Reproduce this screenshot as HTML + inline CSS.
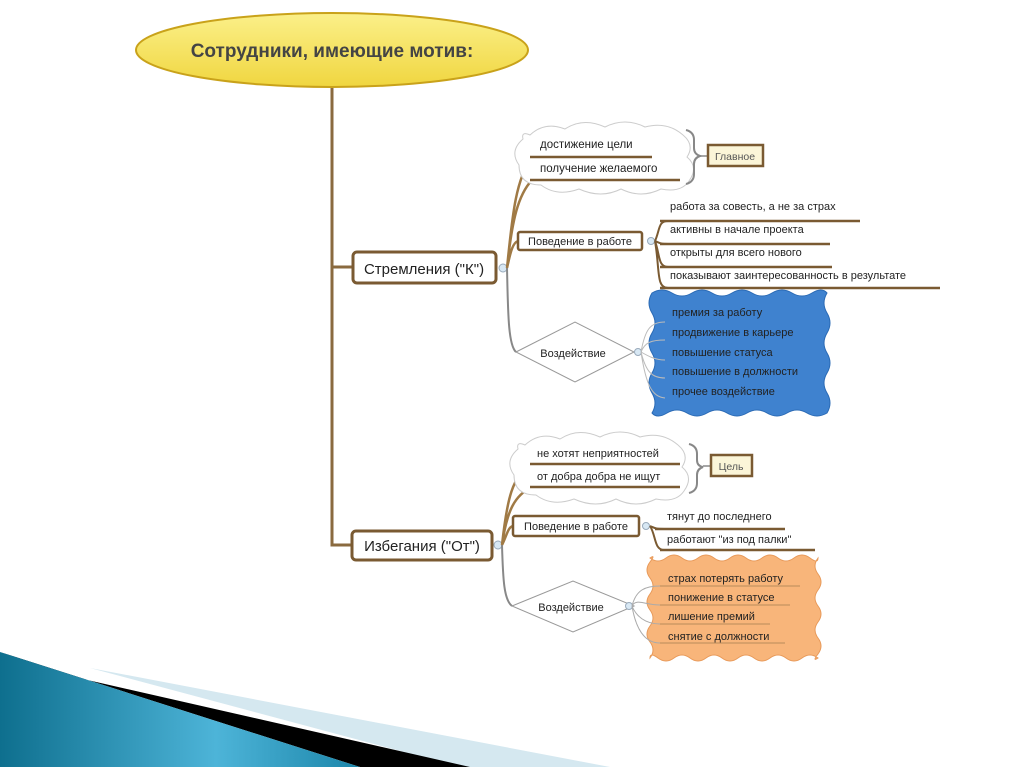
<!DOCTYPE html>
<html><head><meta charset="utf-8"><style>
html,body{margin:0;padding:0;background:#fff;}
svg{display:block;}
text{font-family:"Liberation Sans","DejaVu Sans",sans-serif;fill:#222;}
</style></head><body>
<svg width="1024" height="767" viewBox="0 0 1024 767" xmlns="http://www.w3.org/2000/svg">
<defs>
<linearGradient id="yg" x1="0" y1="0" x2="0" y2="1"><stop offset="0" stop-color="#fbf08a"/><stop offset="1" stop-color="#f0d640"/></linearGradient>
<linearGradient id="bg" x1="0" y1="0" x2="1" y2="0"><stop offset="0" stop-color="#0e6f8e"/><stop offset="0.6" stop-color="#4db4d8"/><stop offset="1" stop-color="#1c86aa"/></linearGradient>
</defs>
<!-- bottom decoration -->
<polygon points="90,668 610,767 460,767" fill="#d5e8f0"/>
<polygon points="0,652 70,676 470,767 360,767" fill="#000"/>
<polygon points="0,652 360,767 0,767" fill="url(#bg)"/>

<!-- title -->
<ellipse cx="332" cy="50" rx="196" ry="37" fill="url(#yg)" stroke="#c9a21a" stroke-width="2"/>
<text x="332" y="57" text-anchor="middle" font-size="19" font-weight="bold" style="fill:#444">Сотрудники, имеющие мотив:</text>

<!-- trunk -->
<path d="M332 88 V545 H352 M332 267 H353" stroke="#8a6a3f" stroke-width="3" fill="none"/>

<!-- Стремления -->
<rect x="353" y="252" width="143" height="31" rx="4" fill="#fff" stroke="#7a5a32" stroke-width="3"/>
<text x="424" y="274" text-anchor="middle" font-size="15">Стремления ("К")</text>
<circle cx="503" cy="268" r="4" fill="#d8e8f4" stroke="#9ab" stroke-width="1"/>
<path d="M507 268 C512 220,515 180,532 157 M507 268 C512 220,518 195,532 180 M507 268 C510 255,512 243,518 241" stroke="#a07a45" stroke-width="2.5" fill="none"/>
<path d="M507 268 C508 310,508 345,516 352" stroke="#888" stroke-width="2" fill="none"/>

<path d="M530 135 q15 -14 35 -6 q18 -12 40 -2 q20 -10 40 0 q22 -6 38 8 q12 10 4 22 q12 10 2 24 q-8 12 -28 8 q-20 10 -40 0 q-20 10 -42 0 q-22 8 -38 -4 q-22 0 -22 -20 q-10 -14 4 -26 q-2 -8 7 -4z" fill="#fff" stroke="#ccc" stroke-width="1"/>
<text x="540" y="148" font-size="11.5">достижение цели</text>
<line x1="530" y1="157" x2="652" y2="157" stroke="#7a5a32" stroke-width="2.5"/>
<text x="540" y="172" font-size="11.5">получение желаемого</text>
<line x1="530" y1="180" x2="680" y2="180" stroke="#7a5a32" stroke-width="2.5"/>
<path d="M686 130 q8 2 8 10 v8 q0 6 6 8 q-6 2 -6 8 v10 q0 8 -8 10" stroke="#888" stroke-width="2" fill="none"/>
<line x1="700" y1="156" x2="708" y2="156" stroke="#888" stroke-width="1.5"/>
<rect x="708" y="145" width="55" height="21" fill="#fbf5d8" stroke="#7a5a32" stroke-width="2.5"/>
<text x="735" y="160" text-anchor="middle" font-size="10.5" style="fill:#555">Главное</text>

<rect x="518" y="232" width="124" height="18" rx="2" fill="#fff" stroke="#7a5a32" stroke-width="2.5"/>
<text x="580" y="245" text-anchor="middle" font-size="11">Поведение в работе</text>
<circle cx="651" cy="241" r="3.5" fill="#d8e8f4" stroke="#9ab" stroke-width="1"/>
<path d="M655 241 C660 230,658 221,668 221 M655 241 C660 243,660 244,668 244 M655 241 C660 255,658 267,668 267 M655 241 C660 270,656 288,668 288" stroke="#7a5a32" stroke-width="2" fill="none"/>
<text x="670" y="210" font-size="11">работа за совесть, а не за страх</text>
<line x1="660" y1="221" x2="860" y2="221" stroke="#7a5a32" stroke-width="2.5"/>
<text x="670" y="233" font-size="11">активны в начале проекта</text>
<line x1="660" y1="244" x2="830" y2="244" stroke="#7a5a32" stroke-width="2.5"/>
<text x="670" y="256" font-size="11">открыты для всего нового</text>
<line x1="660" y1="267" x2="832" y2="267" stroke="#7a5a32" stroke-width="2.5"/>
<text x="670" y="279" font-size="11">показывают заинтересованность в результате</text>
<line x1="660" y1="288" x2="940" y2="288" stroke="#7a5a32" stroke-width="2.5"/>

<polygon points="516,352 575,322 634,352 575,382" fill="#fff" stroke="#999" stroke-width="1"/>
<text x="573" y="357" text-anchor="middle" font-size="11">Воздействие</text>
<path d="M652 293 q10 -6 20 0 t20 0 t20 0 t20 0 t20 0 t20 0 t20 0 t20 0 t15 0 q-6 10 0 20 t0 20 t0 20 t0 20 t0 20 t0 20 q-10 6 -20 0 t-20 0 t-20 0 t-20 0 t-20 0 t-20 0 t-20 0 t-20 0 t-15 0 q6 -10 0 -20 t0 -20 t0 -20 t0 -20 t0 -20 t0 -20z" fill="#3f82cf" stroke="#2a6ab5" stroke-width="1"/>
<circle cx="638" cy="352" r="3.5" fill="#d8e8f4" stroke="#9ab"/>
<path d="M641 352 C645 330,650 322,665 322 M641 352 C645 342,652 340,665 340 M641 352 C648 356,655 360,665 360 M641 352 C646 372,652 378,665 378 M641 352 C646 385,652 397,665 398" stroke="#bbb" stroke-width="1" fill="none"/>
<text x="672" y="316" font-size="11">премия за работу</text>
<text x="672" y="336" font-size="11">продвижение в карьере</text>
<text x="672" y="356" font-size="11">повышение статуса</text>
<text x="672" y="375" font-size="11">повышение в должности</text>
<text x="672" y="395" font-size="11">прочее воздействие</text>

<!-- Избегания -->
<rect x="352" y="531" width="140" height="29" rx="4" fill="#fff" stroke="#7a5a32" stroke-width="3"/>
<text x="422" y="551" text-anchor="middle" font-size="15">Избегания ("От")</text>
<circle cx="498" cy="545" r="4" fill="#d8e8f4" stroke="#9ab"/>
<path d="M502 545 C507 500,512 475,532 464 M502 545 C507 510,515 495,532 487 M502 545 C507 535,508 527,513 526" stroke="#a07a45" stroke-width="2.5" fill="none"/>
<path d="M502 545 C503 580,504 600,512 606" stroke="#888" stroke-width="2" fill="none"/>

<path d="M525 445 q15 -14 35 -6 q18 -12 40 -2 q20 -10 40 0 q22 -6 38 8 q12 10 4 22 q12 10 2 24 q-8 12 -28 8 q-20 10 -40 0 q-20 10 -42 0 q-22 8 -38 -4 q-22 0 -22 -20 q-10 -14 4 -26 q-2 -8 7 -4z" fill="#fff" stroke="#ccc" stroke-width="1"/>
<text x="537" y="457" font-size="11">не хотят неприятностей</text>
<line x1="530" y1="464" x2="680" y2="464" stroke="#7a5a32" stroke-width="2.5"/>
<text x="537" y="480" font-size="11">от добра добра не ищут</text>
<line x1="530" y1="487" x2="680" y2="487" stroke="#7a5a32" stroke-width="2.5"/>
<path d="M689 444 q8 2 8 10 v6 q0 6 6 7 q-6 2 -6 8 v8 q0 8 -8 10" stroke="#888" stroke-width="2" fill="none"/>
<line x1="703" y1="466" x2="711" y2="466" stroke="#888" stroke-width="1.5"/>
<rect x="711" y="455" width="41" height="21" fill="#fbf5d8" stroke="#7a5a32" stroke-width="2.5"/>
<text x="731" y="470" text-anchor="middle" font-size="10.5" style="fill:#555">Цель</text>

<rect x="513" y="516" width="126" height="20" rx="2" fill="#fff" stroke="#7a5a32" stroke-width="2.5"/>
<text x="576" y="530" text-anchor="middle" font-size="11">Поведение в работе</text>
<circle cx="646" cy="526" r="3.5" fill="#d8e8f4" stroke="#9ab"/>
<path d="M650 526 C655 528,655 529,664 529 M650 526 C656 535,654 550,664 550" stroke="#7a5a32" stroke-width="2" fill="none"/>
<line x1="655" y1="529" x2="785" y2="529" stroke="#7a5a32" stroke-width="2.5"/>
<line x1="660" y1="550" x2="815" y2="550" stroke="#7a5a32" stroke-width="2.5"/>
<text x="667" y="520" font-size="11">тянут до последнего</text>
<text x="667" y="543" font-size="11">работают "из под палки"</text>

<polygon points="512,606 573,581 634,606 573,632" fill="#fff" stroke="#999" stroke-width="1"/>
<text x="571" y="611" text-anchor="middle" font-size="11">Воздействие</text>
<path d="M650 558 q8 6 16 0 t16 0 t16 0 t16 0 t16 0 t16 0 t16 0 t16 0 t16 0 t16 0 t8 0 q-6 8 0 16 t0 16 t0 16 t0 16 t0 16 t0 16 t0 4 q-8 -6 -16 0 t-16 0 t-16 0 t-16 0 t-16 0 t-16 0 t-16 0 t-16 0 t-16 0 t-16 0 t-8 0 q6 -8 0 -16 t0 -16 t0 -16 t0 -16 t0 -16 t0 -16 t0 -4z" fill="#f8b57a" stroke="#e89a5a" stroke-width="1"/>
<circle cx="629" cy="606" r="3.5" fill="#d8e8f4" stroke="#9ab"/>
<path d="M632 606 C636 590,645 586,660 586 M632 606 C636 598,645 605,660 605 M632 606 C636 616,645 624,660 624 M632 606 C636 630,645 643,660 643" stroke="#aaa" stroke-width="1" fill="none"/>
<text x="668" y="582" font-size="11">страх потерять работу</text>
<line x1="660" y1="586" x2="800" y2="586" stroke="#b88a5a" stroke-width="1"/>
<text x="668" y="601" font-size="11">понижение в статусе</text>
<line x1="660" y1="605" x2="790" y2="605" stroke="#b88a5a" stroke-width="1"/>
<text x="668" y="620" font-size="11">лишение премий</text>
<line x1="660" y1="624" x2="770" y2="624" stroke="#b88a5a" stroke-width="1"/>
<text x="668" y="640" font-size="11">снятие с должности</text>
<line x1="660" y1="643" x2="785" y2="643" stroke="#b88a5a" stroke-width="1"/>
</svg>
</body></html>
